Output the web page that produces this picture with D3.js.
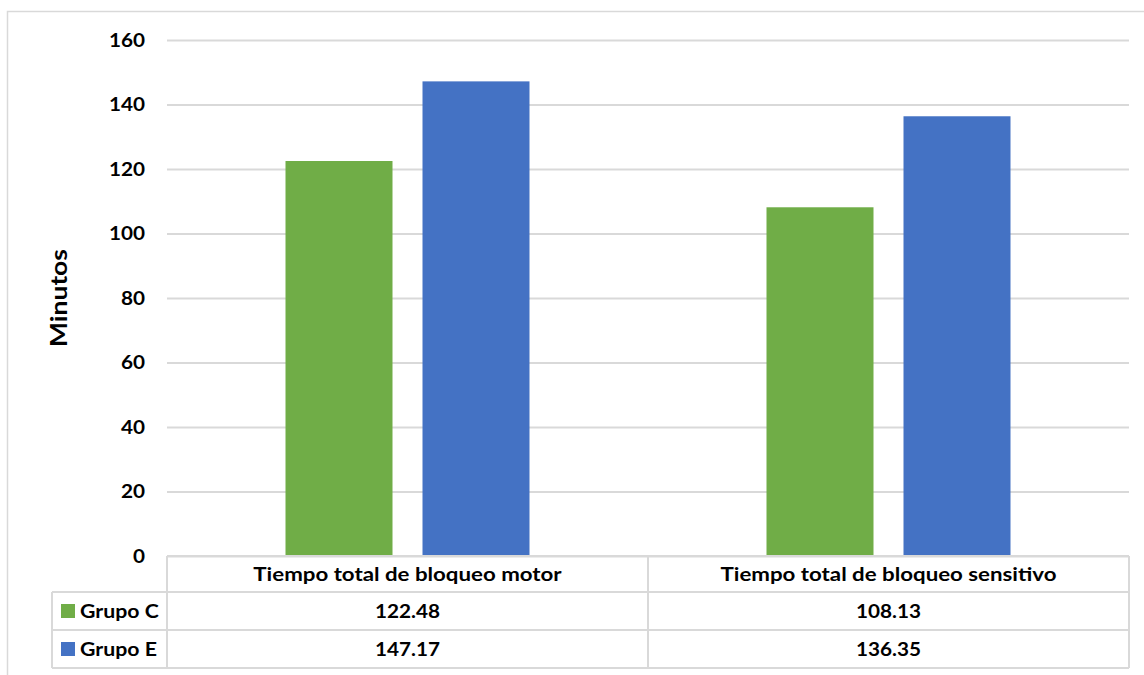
<!DOCTYPE html>
<html>
<head>
<meta charset="utf-8">
<script src="https://cdn.jsdelivr.net/npm/d3@7"></script>
<style>
  html, body { margin: 0; padding: 0; background: #fff; }
  svg { display: block; }
  text { font-family: Lato, "Open Sans", sans-serif; font-weight: bold; fill: #000; }
</style>
</head>
<body>
<svg id="chart" width="1144" height="675"></svg>
<script>
// ---- data ----
const categories = ["Tiempo total de bloqueo motor", "Tiempo total de bloqueo sensitivo"];
const seriesNames = ["Grupo C", "Grupo E"];
const grupoC = [122.48, 108.13];
const grupoE = [147.17, 136.35];
const yTicks = [0, 20, 40, 60, 80, 100, 120, 140, 160];
const yLabel = "Minutos";

// ---- layout / style ----
const colors = ["#70AD47", "#4472C4"];
const gridColor = "#D9D9D9";
const W = 1144, H = 675;
const plot = { left: 167, right: 1129, top: 40, bottom: 556 };
const legendLeft = 52;
const rowH = [36, 38, 38];
const sx = 1.12; // horizontal text stretch

const svg = d3.select("#chart");
const seriesValues = [grupoC, grupoE];

// outer frame
svg.append("rect")
  .attr("x", 7.5).attr("y", 11.5)
  .attr("width", W + 20).attr("height", H + 20)
  .attr("fill", "none").attr("stroke", gridColor).attr("stroke-width", 1.5);

const y = d3.scaleLinear().domain([0, 160]).range([plot.bottom, plot.top]);
const x0 = d3.scaleBand().domain(categories).range([plot.left, plot.right]);
const groupW = 244;
const gOff = (x0.bandwidth() - groupW) / 2;
const x1 = d3.scaleBand().domain(seriesNames).range([gOff, gOff + groupW]).paddingInner(30 / 137);

// gridlines
const yAxis = d3.axisLeft(y).tickValues(yTicks).tickSize(-(plot.right - plot.left)).tickFormat("");
const ga = svg.append("g").attr("transform", `translate(${plot.left},0)`).call(yAxis);
ga.select(".domain").remove();
ga.selectAll(".tick line").attr("stroke", gridColor).attr("stroke-width", 2);

// tick labels
const tl = svg.append("g").selectAll("g").data(yTicks).join("g")
  .attr("transform", d => `translate(145,${y(d)}) scale(${sx},1)`);
tl.append("text")
  .attr("text-anchor", "end").attr("dy", "0.36em")
  .style("font-size", "18.5px")
  .text(d => d);

// y label
svg.append("g").attr("transform", "translate(67,298) rotate(-90) scale(1.15,1)")
  .append("text").attr("text-anchor", "middle")
  .style("font-size", "23px").text(yLabel);

// bars
const bars = svg.append("g");
seriesNames.forEach((s, si) => {
  bars.selectAll(null).data(categories).join("rect")
    .attr("x", c => x0(c) + x1(s))
    .attr("width", x1.bandwidth())
    .attr("y", (c, ci) => y(seriesValues[si][ci]))
    .attr("height", (c, ci) => y(0) - y(seriesValues[si][ci]))
    .attr("fill", colors[si]);
});

// data table
const tY0 = plot.bottom;
const tY1 = tY0 + rowH[0];
const tY2 = tY1 + rowH[1];
const tY3 = tY2 + rowH[2];
const tbl = svg.append("g").attr("stroke", gridColor).attr("stroke-width", 2).attr("fill", "none");
tbl.append("line").attr("x1", plot.left).attr("x2", plot.right).attr("y1", tY0).attr("y2", tY0);
[tY1, tY2, tY3].forEach(v => tbl.append("line").attr("x1", legendLeft).attr("x2", plot.right).attr("y1", v).attr("y2", v));
tbl.append("line").attr("x1", legendLeft).attr("x2", legendLeft).attr("y1", tY1).attr("y2", tY3);
[plot.left, x0(categories[1]), plot.right].forEach(v =>
  tbl.append("line").attr("x1", v).attr("x2", v).attr("y1", tY0).attr("y2", tY3));

// header texts
svg.append("g").selectAll("g").data(categories).join("g")
  .attr("transform", c => `translate(${x0(c) + x0.bandwidth() / 2},${tY0 + rowH[0] / 2 + 7}) scale(${sx},1)`)
  .append("text").attr("text-anchor", "middle").style("font-size", "19.9px").text(c => c);

// value rows
const rowsTop = [tY1, tY2];
seriesNames.forEach((s, si) => {
  const cy = rowsTop[si] + rowH[si + 1] / 2;
  svg.append("g").selectAll("g").data(categories).join("g")
    .attr("transform", c => `translate(${x0(c) + x0.bandwidth() / 2},${cy + 7}) scale(${sx},1)`)
    .append("text").attr("text-anchor", "middle").style("font-size", "18.5px")
    .text((c, ci) => seriesValues[si][ci].toFixed(2));
  // legend key
  svg.append("rect").attr("x", 61).attr("y", cy - 7).attr("width", 14).attr("height", 14).attr("fill", colors[si]);
  svg.append("g").attr("transform", `translate(80,${cy + 7}) scale(${sx},1)`)
    .append("text").attr("text-anchor", "start").style("font-size", "19px").text(s);
});
</script>
</body>
</html>
